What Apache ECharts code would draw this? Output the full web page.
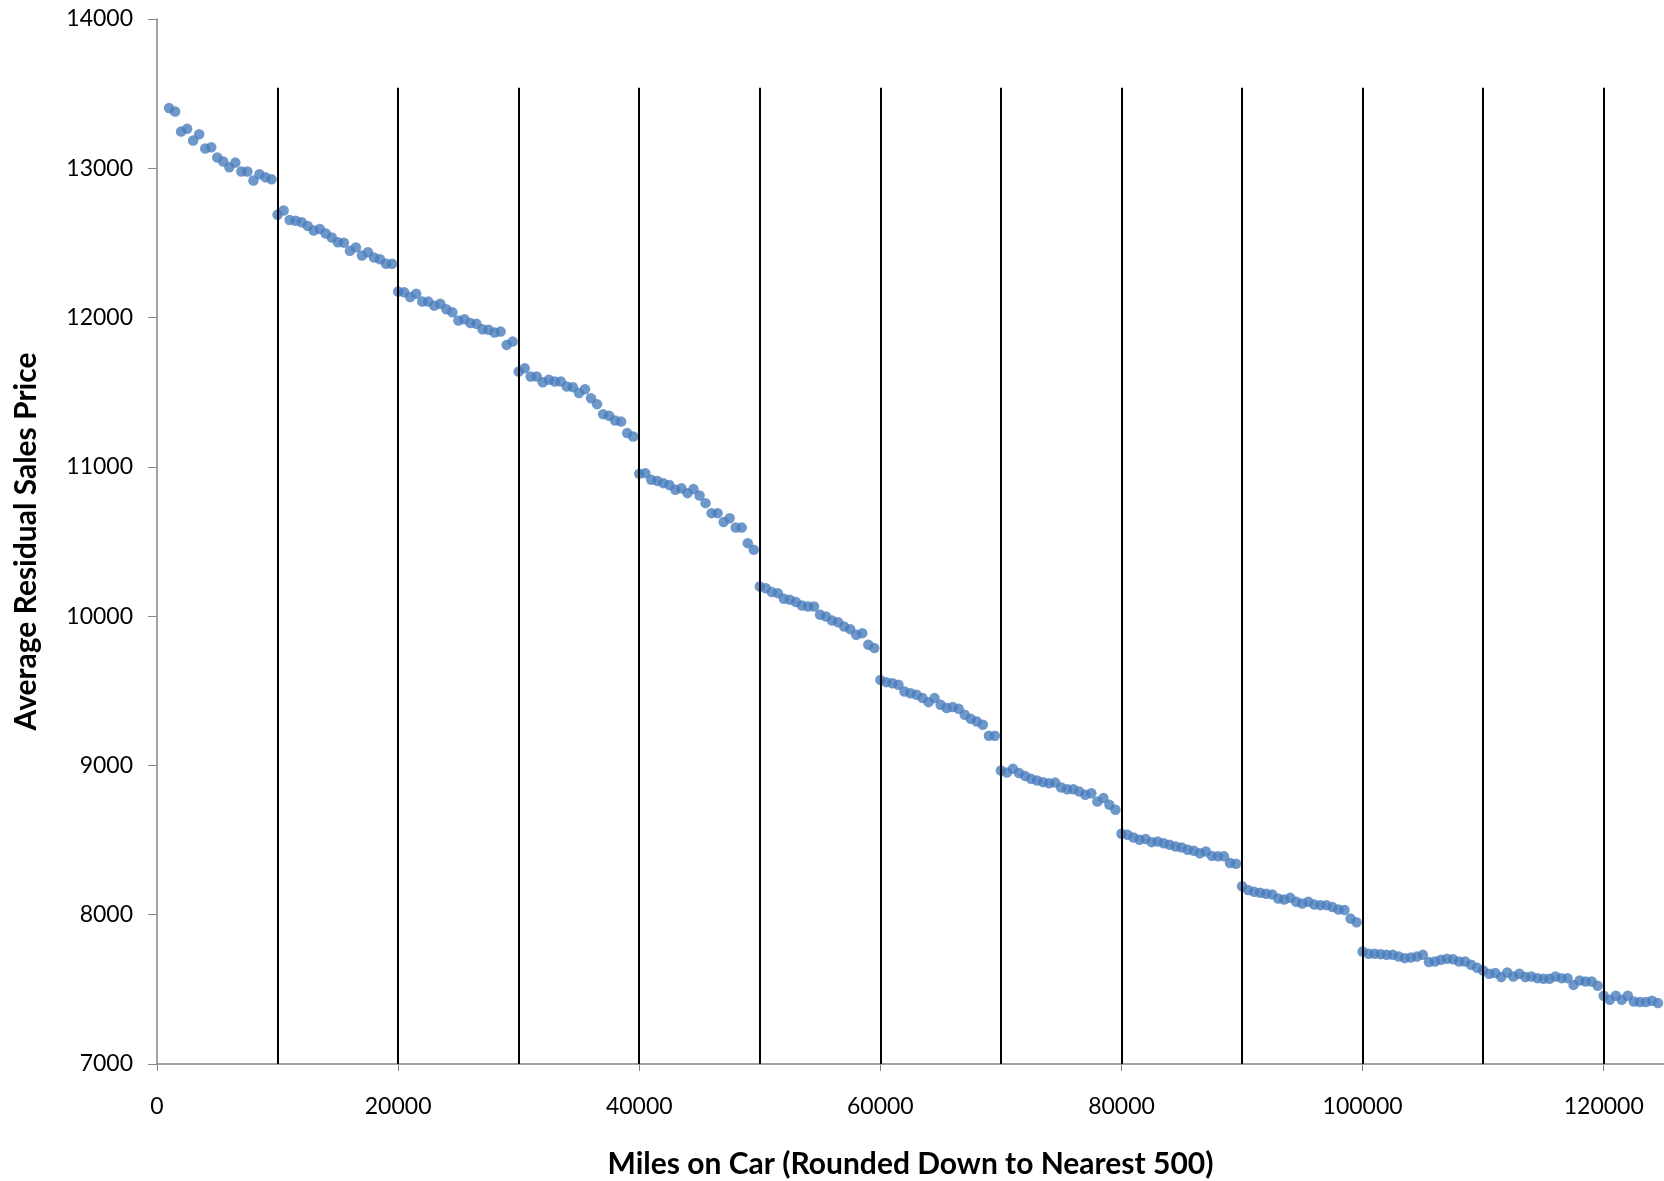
<!DOCTYPE html>
<html>
<head>
<meta charset="utf-8">
<script src="https://cdn.jsdelivr.net/npm/echarts@6/dist/echarts.min.js"></script>
<style>
  html, body { margin: 0; padding: 0; background: #fff; }
  #chart { width: 1664px; height: 1181px; }
</style>
</head>
<body>
<div id="chart"></div>
<script>
// Mileage buckets (start at 1000, step 500)
const miles = [];
for (let m = 1000; m <= 124500; m += 500) miles.push(m);

// Average residual sales price per mileage bucket
const prices = [
  13403, 13380, 13246, 13264, 13186, 13228, 13132, 13141, 13072, 13045,
  13007, 13038, 12978, 12978, 12918, 12960, 12940, 12927,
  12688, 12717, 12654, 12648, 12639, 12614, 12583, 12594, 12563, 12536,
  12505, 12502, 12447, 12469, 12415, 12438, 12402, 12391, 12360, 12360,
  12174, 12170, 12137, 12159, 12107, 12107, 12080, 12092, 12056, 12036,
  11980, 11989, 11963, 11958, 11922, 11918, 11900, 11906, 11817, 11839,
  11638, 11661, 11605, 11605, 11567, 11583, 11572, 11572, 11538, 11534,
  11494, 11520, 11460, 11420, 11353, 11342, 11310, 11303, 11226, 11203,
  10953, 10958, 10913, 10906, 10891, 10879, 10846, 10857, 10824, 10851,
  10808, 10757, 10690, 10690, 10630, 10656, 10593, 10593, 10489, 10444,
  10198, 10187, 10161, 10154, 10116, 10109, 10094, 10071, 10065, 10065,
  10009, 9997, 9970, 9959, 9930, 9913, 9875, 9886, 9808, 9786,
  9573, 9558, 9551, 9540, 9495, 9484, 9473, 9451, 9424, 9451,
  9406, 9384, 9391, 9379, 9339, 9312, 9294, 9272, 9198, 9198,
  8966, 8953, 8977, 8949, 8930, 8910, 8899, 8888, 8881, 8885,
  8852, 8841, 8841, 8825, 8803, 8814, 8758, 8781, 8736, 8703,
  8542, 8535, 8517, 8502, 8508, 8486, 8490, 8479, 8468, 8457,
  8450, 8435, 8428, 8412, 8423, 8394, 8391, 8391, 8346, 8341,
  8191, 8165, 8153, 8147, 8140, 8136, 8109, 8102, 8113, 8087,
  8075, 8087, 8068, 8064, 8064, 8051, 8035, 8031, 7974, 7950,
  7754, 7738, 7738, 7736, 7731, 7731, 7720, 7709, 7713, 7720,
  7731, 7683, 7687, 7698, 7705, 7702, 7687, 7687, 7665, 7645,
  7626, 7604, 7609, 7582, 7613, 7586, 7604, 7582, 7586, 7575,
  7571, 7571, 7586, 7575, 7575, 7530, 7560, 7553, 7553, 7524,
  7457, 7430, 7457, 7430, 7457, 7419, 7415, 7415, 7424, 7408
];

// Vertical reference lines every 10,000 miles
const dividers = [10000, 20000, 30000, 40000, 50000, 60000, 70000, 80000, 90000, 100000, 110000, 120000];
const dividerTop = 13540;

const points = miles.map((m, i) => [m, prices[i]]);

const chart = echarts.init(document.getElementById('chart'), null, { renderer: 'canvas' });
const axisGrey = '#868686';
const font = 'Lato, "Open Sans", sans-serif';
const plain = v => String(v);

chart.setOption({
  animation: false,
  backgroundColor: '#ffffff',
  grid: { left: 157, right: 0, top: 19, bottom: 117, containLabel: false, outerBoundsMode: 'none' },
  xAxis: {
    type: 'value',
    min: 0,
    max: 125000,
    interval: 20000,
    name: 'Miles on Car (Rounded Down to Nearest 500)',
    nameLocation: 'middle',
    nameGap: 85,
    nameTextStyle: { fontFamily: font, fontWeight: 'bold', fontSize: 30, color: '#000' },
    axisLine: { show: true, lineStyle: { color: axisGrey, width: 1.5 } },
    axisTick: { show: true, inside: false, length: 7, lineStyle: { color: axisGrey } },
    axisLabel: { fontFamily: font, fontSize: 23, color: '#000', margin: 31, showMaxLabel: false, formatter: plain },
    splitLine: { show: false }
  },
  yAxis: {
    type: 'value',
    min: 7000,
    max: 14000,
    interval: 1000,
    name: 'Average Residual Sales Price',
    nameLocation: 'middle',
    nameRotate: 90,
    nameGap: 116,
    nameTextStyle: { fontFamily: font, fontWeight: 'bold', fontSize: 30, color: '#000' },
    axisLine: { show: true, lineStyle: { color: axisGrey, width: 1.5 } },
    axisTick: { show: true, inside: false, length: 9, lineStyle: { color: axisGrey } },
    axisLabel: { fontFamily: font, fontSize: 23, color: '#000', margin: 24, formatter: plain },
    splitLine: { show: false }
  },
  series: [
    {
      type: 'scatter',
      data: points,
      symbol: 'circle',
      symbolSize: 10.5,
      itemStyle: { color: '#4A7DBD' },
      clip: false,
      markLine: {
        silent: true,
        symbol: ['none', 'none'],
        label: { show: false },
        lineStyle: { color: '#000', width: 2, type: 'solid' },
        data: dividers.map(d => [{ coord: [d, 7000] }, { coord: [d, dividerTop] }])
      },
      z: 3
    }
  ]
});
</script>
</body>
</html>
